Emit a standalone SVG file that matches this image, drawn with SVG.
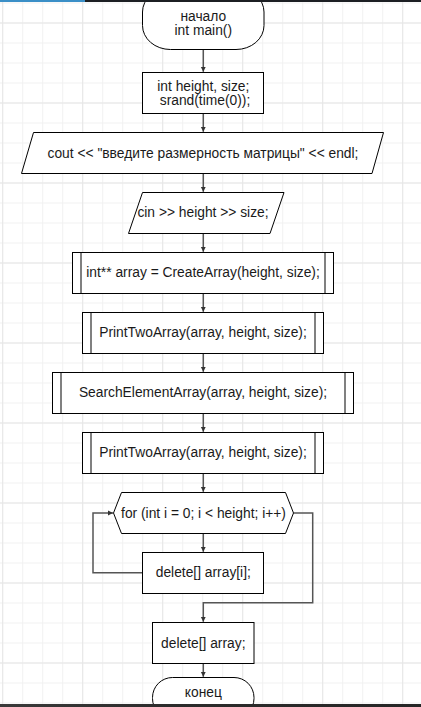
<svg xmlns="http://www.w3.org/2000/svg" width="421" height="707" viewBox="0 0 421 707">
<style>
.s{fill:#fff;stroke:#000;stroke-width:1}
.in{stroke:#808080;stroke-width:2;fill:none}
.t{font-family:"Liberation Sans",Arial,sans-serif;font-size:13.8px;fill:#1a1a1a;text-anchor:middle}
.c{fill:none;stroke:#555;stroke-width:1.5}
</style>
<defs>
<pattern id="gm" width="20" height="20" patternUnits="userSpaceOnUse" x="2.2" y="2.5">
<rect x="0" y="0" width="1" height="20" fill="#f1f1f1"/>
<rect x="0" y="0" width="20" height="1" fill="#f1f1f1"/>
</pattern>
<pattern id="gM" width="80" height="80" patternUnits="userSpaceOnUse" x="2.2" y="22.5">
<rect x="0" y="0" width="1" height="80" fill="#e6e6e6"/>
<rect x="0" y="0" width="80" height="1" fill="#e6e6e6"/>
</pattern>
<marker id="a" markerWidth="6" markerHeight="6" refX="5" refY="3" orient="auto" markerUnits="userSpaceOnUse">
<path d="M0,0.5 L5,3 L0,5.5 Z" fill="#333"/>
</marker>
<linearGradient id="bb" x1="0" x2="1" y1="0" y2="0">
<stop offset="0" stop-color="#3a3a3a"/>
<stop offset="0.4" stop-color="#2c2c2c"/>
<stop offset="1" stop-color="#262626"/>
</linearGradient>
</defs>
<rect width="421" height="707" fill="#fff"/>
<rect width="421" height="707" fill="url(#gm)"/>
<rect width="421" height="707" fill="url(#gM)"/>

<g id="connectors">
<path class="c" d="M203.3,49.5 V71.8" marker-end="url(#a)"/>
<path class="c" d="M203.3,113.5 V131.8" marker-end="url(#a)"/>
<path class="c" d="M203.3,173.5 V191.8" marker-end="url(#a)"/>
<path class="c" d="M203.3,233.5 V251.8" marker-end="url(#a)"/>
<path class="c" d="M203.3,293.5 V311.8" marker-end="url(#a)"/>
<path class="c" d="M203.3,353.5 V371.8" marker-end="url(#a)"/>
<path class="c" d="M203.3,413.5 V431.8" marker-end="url(#a)"/>
<path class="c" d="M203.3,473.5 V491.8" marker-end="url(#a)"/>
<path class="c" d="M203.3,533.5 V551.8" marker-end="url(#a)"/>
<path class="c" d="M142.5,572.8 H93 V513 H113" marker-end="url(#a)"/>
<path class="c" d="M293.5,513 H312.7 V602.7 H203.3 V621.8" marker-end="url(#a)"/>
<path class="c" d="M203.3,663.5 V676.8" marker-end="url(#a)"/>
</g>

<g id="start">
<rect class="s" x="142.5" y="-12" width="121.5" height="61.5" rx="28" ry="24"/>
<text class="t" x="203.3" y="20.5">начало</text>
<text class="t" x="203.3" y="35">int main()</text>
</g>

<g id="decl">
<rect class="s" x="142.5" y="72.5" width="121" height="41"/>
<text class="t" x="203.3" y="91">int height, size;</text>
<text class="t" x="205" y="105"> srand(time(0));</text>
</g>

<g id="out">
<polygon class="s" points="33.5,132.5 383.5,132.5 372,173.5 21.5,173.5"/>
<text class="t" x="203" y="158.3">cout &lt;&lt; "введите размерность матрицы" &lt;&lt; endl;</text>
</g>

<g id="in">
<polygon class="s" points="142.5,192.5 284,192.5 270,233.5 128.5,233.5"/>
<text class="t" x="203" y="217.3">cin &gt;&gt; height &gt;&gt; size;</text>
</g>

<g id="create">
<rect class="s" x="72.5" y="252.5" width="261" height="41"/>
<line class="in" x1="81" y1="253" x2="81" y2="293"/>
<line class="in" x1="325" y1="253" x2="325" y2="293"/>
<text class="t" x="203" y="277.3">int** array = CreateArray(height, size);</text>
</g>

<g id="print1">
<rect class="s" x="82.5" y="312.5" width="241" height="41"/>
<line class="in" x1="91" y1="313" x2="91" y2="353"/>
<line class="in" x1="315" y1="313" x2="315" y2="353"/>
<text class="t" x="203" y="337.3">PrintTwoArray(array, height, size);</text>
</g>

<g id="search">
<rect class="s" x="52.5" y="372.5" width="301" height="41"/>
<line class="in" x1="61" y1="373" x2="61" y2="413"/>
<line class="in" x1="345" y1="373" x2="345" y2="413"/>
<text class="t" x="203" y="397.3">SearchElementArray(array, height, size);</text>
</g>

<g id="print2">
<rect class="s" x="82.5" y="432.5" width="241" height="41"/>
<line class="in" x1="91" y1="433" x2="91" y2="473"/>
<line class="in" x1="315" y1="433" x2="315" y2="473"/>
<text class="t" x="203" y="457.3">PrintTwoArray(array, height, size);</text>
</g>

<g id="loop">
<polygon class="s" points="113.5,513 121.5,492.5 285.5,492.5 293.5,513 285.5,533.5 121.5,533.5"/>
<text class="t" x="203.5" y="518">for (int i = 0; i &lt; height; i++)</text>
</g>

<g id="delrow">
<rect class="s" x="142.5" y="552.5" width="121" height="41"/>
<text class="t" x="203.3" y="577.3">delete[] array[i];</text>
</g>

<g id="delarr">
<rect class="s" x="152.5" y="622.5" width="101.5" height="41"/>
<text class="t" x="203.3" y="647.8">delete[] array;</text>
</g>

<g id="end">
<rect class="s" x="152.5" y="677.5" width="101.5" height="41" rx="20" ry="20"/>
<text class="t" x="203.3" y="697">конец</text>
</g>

<rect x="0" y="0" width="421" height="2" fill="#1c1f23"/>
<rect x="0" y="0" width="85" height="2" fill="#3b8fc7"/>
<rect x="0" y="704" width="421" height="3" fill="url(#bb)"/>
</svg>
